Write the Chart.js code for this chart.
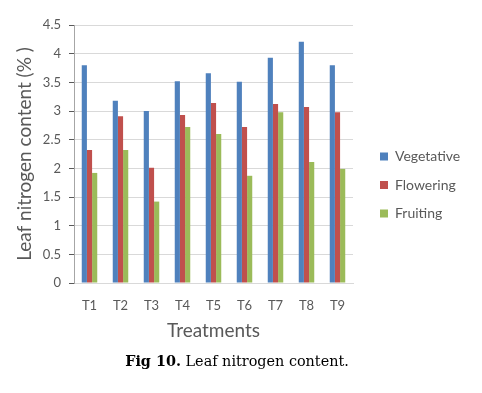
<!DOCTYPE html>
<html>
<head>
<meta charset="utf-8">
<script src="https://cdn.jsdelivr.net/npm/chart.js@4.4.0/dist/chart.umd.min.js"></script>
<style>
  html, body { margin: 0; padding: 0; background: #fff; }
  #wrap { position: relative; width: 482px; height: 393px; }
  #caption {
    position: absolute; left: 0; width: 474px; top: 352px;
    text-align: center; font-family: "DejaVu Serif", serif; font-size: 14.4px; color: #000;
  }
</style>
</head>
<body>
<div id="wrap">
  <canvas id="chart" width="482" height="393"></canvas>
  <div id="caption"><b>Fig 10.</b> Leaf nitrogen content.</div>
</div>
<script>
const categories = ['T1', 'T2', 'T3', 'T4', 'T5', 'T6', 'T7', 'T8', 'T9'];
const vegetative = [3.80, 3.18, 3.00, 3.52, 3.66, 3.51, 3.93, 4.21, 3.80];
const flowering = [2.32, 2.91, 2.01, 2.93, 3.14, 2.72, 3.12, 3.07, 2.98];
const fruiting = [1.92, 2.32, 1.42, 2.72, 2.60, 1.87, 2.98, 2.11, 1.99];
const yTicks = [0, 0.5, 1, 1.5, 2, 2.5, 3, 3.5, 4, 4.5];

const gray = '#595959';
const font = 'Lato, "Open Sans", sans-serif';

// keep the legend where Excel put it: right of the plot, a bit lower than centre
const legendPlace = {
    id: 'legendPlace',
    beforeInit(chart) {
        const fit = chart.legend.fit;
        chart.legend.fit = function () {
            fit.call(this);
            this.width = 116;
        };
    },
    afterLayout(chart) {
        const lg = chart.legend;
        const h = lg.bottom - lg.top;
        lg.top = 135;
        lg.bottom = lg.top + h;
        lg.left = 365.5;
        lg.right = lg.left + 116;
    }
};

new Chart(document.getElementById('chart'), {
    type: 'bar',
    data: {
        labels: categories,
        datasets: [
            { label: 'Vegetative', data: vegetative, backgroundColor: '#4F81BD' },
            { label: 'Flowering', data: flowering, backgroundColor: '#C0504D' },
            { label: 'Fruiting', data: fruiting, backgroundColor: '#9BBB59' }
        ]
    },
    options: {
        responsive: false,
        animation: false,
        layout: { padding: { left: 0, top: 25, right: 13, bottom: 50 } },
        datasets: { bar: { categoryPercentage: 0.5, barPercentage: 1.0 } },
        scales: {
            x: {
                afterFit: s => { s.height = 60; },
                grid: { display: false, drawTicks: false },
                border: { color: '#d9d9d9' },
                ticks: { color: gray, font: { family: font, size: 13 }, padding: 15 },
                title: { display: true, text: 'Treatments', color: gray, font: { family: font, size: 19 }, padding: { top: 2, bottom: 1 } }
            },
            y: {
                min: 0,
                max: 4.5,
                afterFit: s => { s.width = 74; },
                afterBuildTicks: s => { s.ticks = yTicks.map(v => ({ value: v })); },
                grid: { color: '#d9d9d9', tickColor: '#595959', tickLength: 5 },
                border: { color: '#a6a6a6' },
                ticks: { color: gray, font: { family: font, size: 13 }, padding: 8, callback: v => String(v) },
                title: { display: true, text: 'Leaf nitrogen content (% )', color: gray, font: { family: font, size: 19 }, padding: { top: 13.5, bottom: 0 } }
            }
        },
        plugins: {
            legend: {
                position: 'right',
                align: 'start',
                labels: { boxWidth: 8, boxHeight: 8, padding: 14.5, color: gray, font: { family: font, size: 14 } }
            },
            tooltip: { enabled: false }
        }
    },
    plugins: [legendPlace]
});
</script>
</body>
</html>
